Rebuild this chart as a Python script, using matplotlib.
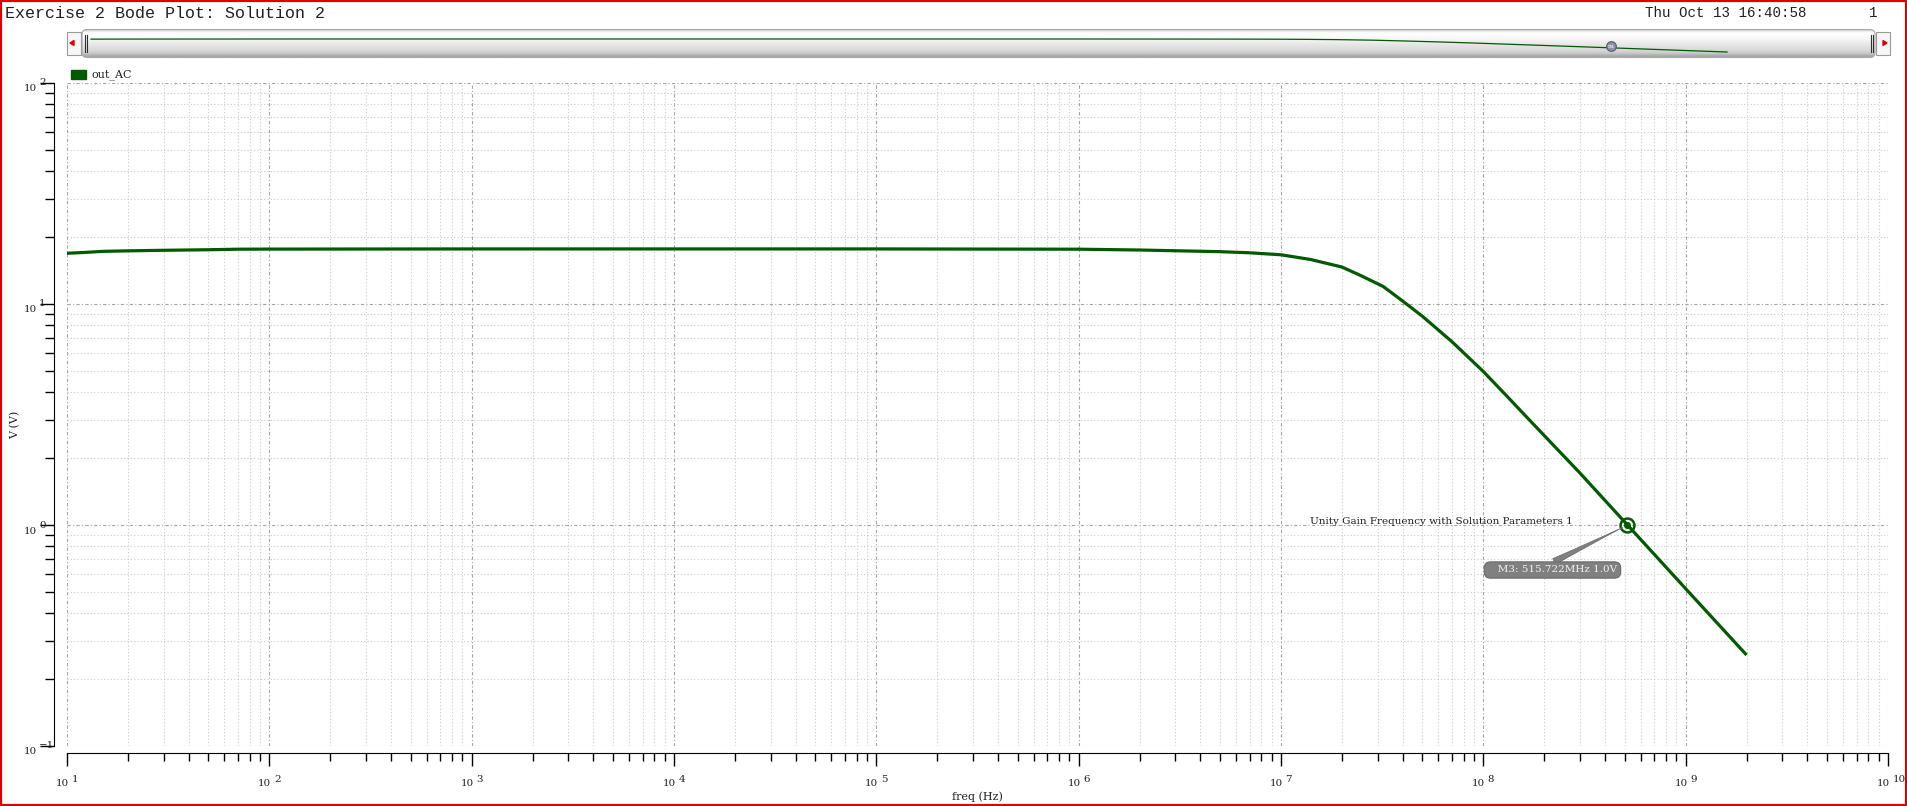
import matplotlib
matplotlib.use("Agg")
import matplotlib.pyplot as plt
from matplotlib.patches import Rectangle, FancyBboxPatch, Polygon
from matplotlib.ticker import LogLocator, NullFormatter
import numpy as np

plt.rcParams['font.family'] = ['DejaVu Serif']

# values
freq = [10, 12, 15, 20, 30, 50, 70, 100, 1e3, 1e4, 1e5, 1e6, 2e6, 5e6, 7e6,
        1e7, 1.4e7, 2e7, 2.5e7, 3.2e7, 4e7, 5e7, 7e7, 1e8, 1.3e8, 1.67e8, 3e8,
        5.157e8, 1e9, 2e9]
mag = [16.96, 17.1, 17.3, 17.4, 17.5, 17.6, 17.7, 17.72, 17.75, 17.75, 17.75,
       17.7, 17.55, 17.25, 17.05, 16.7, 15.9, 14.7, 13.4, 12.0, 10.3, 8.8,
       6.75, 4.95, 3.85, 3.02, 1.72, 1.0, 0.515, 0.258]
ugf_freq = 515.722e6
ugf_mag = 1.0

x_decades = list(range(1, 11))
y_decades = [-1, 0, 1, 2]

title = 'Exercise 2 Bode Plot: Solution 2'
date = 'Thu Oct 13 16:40:58'
trace = 'out_AC'
note = 'Unity Gain Frequency with Solution Parameters 1'
marker_label = '   M3: 515.722MHz 1.0V'

GREEN = '#005a00'
TXT = '#202020'
W, H = 1907, 806


def px_box(x0, y0, x1, y1):
    return [x0 / W, 1 - y1 / H, (x1 - x0) / W, (y1 - y0) / H]


def exp_str(e):
    return str(e).replace('-', '\u2212')


fig = plt.figure(figsize=(W / 100, H / 100), dpi=100)
fig.patch.set_facecolor('white')

# main plot
ax = fig.add_axes(px_box(67, 83, 1888, 746))
ax.set_xscale('log')
ax.set_yscale('log')
ax.set_xlim(10, 1e10)
ax.set_ylim(0.1, 100)

for a in (ax.xaxis, ax.yaxis):
    a.set_major_locator(LogLocator(base=10, numticks=20))
    a.set_minor_locator(LogLocator(base=10, subs=np.arange(2, 10), numticks=20))
    a.set_minor_formatter(NullFormatter())
    a.set_major_formatter(NullFormatter())

ax.grid(which='minor', color='#cacaca', ls=(0, (1, 2)), lw=0.8)
ax.grid(which='major', color='#a4a4a4', ls=(0, (3, 2, 1, 2)), lw=0.8)

ax.plot(freq, mag, color=GREEN, lw=2.3, solid_capstyle='butt', zorder=3)

ax.spines['top'].set_visible(False)
ax.spines['right'].set_visible(False)
ax.spines['left'].set_position(('outward', 9.4))
ax.spines['bottom'].set_position(('outward', 5))
ax.tick_params(axis='y', which='major', length=10, width=1)
ax.tick_params(axis='y', which='minor', length=6.5, width=1)
ax.tick_params(axis='x', which='major', length=9, width=1)
ax.tick_params(axis='x', which='minor', length=6, width=1)

# tick labels drawn as "10" plus a full size raised exponent
for e in x_decades:
    ax.annotate('10', xy=(10.0 ** e, 0), xycoords=('data', 'axes fraction'),
                xytext=(2, -38), textcoords='offset pixels', ha='right',
                va='center', fontsize=7.4, color=TXT, annotation_clip=False)
    ax.annotate(exp_str(e), xy=(10.0 ** e, 0), xycoords=('data', 'axes fraction'),
                xytext=(4.5, -33), textcoords='offset pixels', ha='left',
                va='center', fontsize=7.4, color=TXT, annotation_clip=False)
for e in y_decades:
    ax.annotate('10', xy=(0, 10.0 ** e), xycoords=('axes fraction', 'data'),
                xytext=(-30, -6), textcoords='offset pixels', ha='right',
                va='center', fontsize=7.4, color=TXT, annotation_clip=False)
    ax.annotate(exp_str(e), xy=(0, 10.0 ** e), xycoords=('axes fraction', 'data'),
                xytext=(-28, 0), textcoords='offset pixels', ha='left',
                va='center', fontsize=7.4, color=TXT, annotation_clip=False)

ax.set_xlabel('freq (Hz)', fontsize=8, color=TXT)
ax.xaxis.set_label_coords(0.5, -0.077)
ax.xaxis.label.set_va('center')
ax.set_ylabel('V (V)', fontsize=8, color=TXT)
ax.yaxis.set_label_coords(-0.0286, 0.484)
ax.yaxis.label.set_va('center')

# marker M3
ax.plot(ugf_freq, ugf_mag, 'o', ms=10, mfc='none', mec=GREEN, mew=1.8, zorder=5)
ax.plot(ugf_freq, ugf_mag, 'o', ms=4, color=GREEN, zorder=5)
ax.annotate(note, xy=(ugf_freq, ugf_mag), xytext=(-55, 3),
            textcoords='offset pixels', ha='right', va='center', fontsize=7.5,
            color=TXT, zorder=6)
ax.annotate(marker_label, xy=(ugf_freq, ugf_mag), xytext=(-75, -45),
            textcoords='offset pixels', ha='center', va='center', fontsize=7.5,
            color='#f2f2f2', zorder=6,
            bbox=dict(boxstyle='round,pad=0.35,rounding_size=0.6',
                      fc='#808080', ec='#6a6a6a', lw=0.8),
            arrowprops=dict(arrowstyle='wedge,tail_width=0.6,shrink_factor=0.4',
                            fc='#808080', ec='#707070', lw=0.6,
                            shrinkA=0, shrinkB=4, relpos=(0.45, 1.0)))

# legend swatch
fig.add_artist(Rectangle((71 / W, 1 - 79 / H), 15 / W, 9 / H,
                         transform=fig.transFigure, color=GREEN))
fig.text(92 / W, 1 - 75 / H, trace, fontsize=8, va='center', color=TXT)

# header texts
fig.text(5 / W, 1 - 13 / H, title, family='Liberation Mono', fontsize=12,
         va='center', color=TXT)
fig.text(1645 / W, 1 - 13 / H, date, family='Liberation Mono', fontsize=10.2,
         va='center', color=TXT)
fig.text(1869 / W, 1 - 13 / H, '1', family='Liberation Mono', fontsize=10.2,
         va='center', color=TXT)

# scrollbar
sb = fig.add_axes(px_box(62, 28, 1897, 59))
sb.set_xlim(62, 1897)
sb.set_ylim(59, 28)
sb.axis('off')
grad = np.array([0.80, 0.97, 1.0, 0.99, 0.97, 0.95, 0.93, 0.91, 0.89,
                 0.87, 0.85, 0.82, 0.75, 0.66])[:, None]
trough = FancyBboxPatch((82, 29.5), 1793, 28, boxstyle='round,pad=0,rounding_size=5',
                        fc='none', ec='#a8a8a8', lw=0.8)
sb.add_patch(trough)
img = sb.imshow(grad, cmap='gray', vmin=0, vmax=1, aspect='auto',
                extent=(82, 1875, 57.5, 29.5), interpolation='bilinear')
img.set_clip_path(trough)
for x0, x1, tri in ((67, 81, [(70, 43), (74, 40.5), (74, 45.5)]),
                    (1876, 1890, [(1887, 43), (1883, 40.5), (1883, 45.5)])):
    sb.add_patch(Rectangle((x0, 32), x1 - x0, 23, fc='#f6f6f6', ec='#9a9a9a', lw=0.8))
    sb.add_patch(Polygon(tri, closed=True, color='#dd0000'))
for gx in (84.5, 86.5, 1870.5, 1872.5):
    sb.plot([gx, gx], [35, 52], color='#303030', lw=0.8)

mini = fig.add_axes(px_box(91, 39, 1727, 52))
mini.set_xscale('log')
mini.set_yscale('log')
mini.set_xlim(min(freq), max(freq))
mini.set_ylim(min(mag), max(mag))
mini.axis('off')
mini.plot(freq, mag, color=GREEN, lw=0.9, clip_on=False)
mini.plot(ugf_freq, ugf_mag * 1.6, 'o', ms=7, color='#9090a4', mec='#5a5a70',
          mew=0.8, clip_on=False)
mini.text(ugf_freq, ugf_mag * 1.6, 'm', fontsize=4.5, color='white',
          ha='center', va='center')

# window border
fig.add_artist(Rectangle((0, 0), 1, 1, transform=fig.transFigure, fill=False,
                         ec='#dd0000', lw=3))

fig.savefig('out.png', dpi=100)
